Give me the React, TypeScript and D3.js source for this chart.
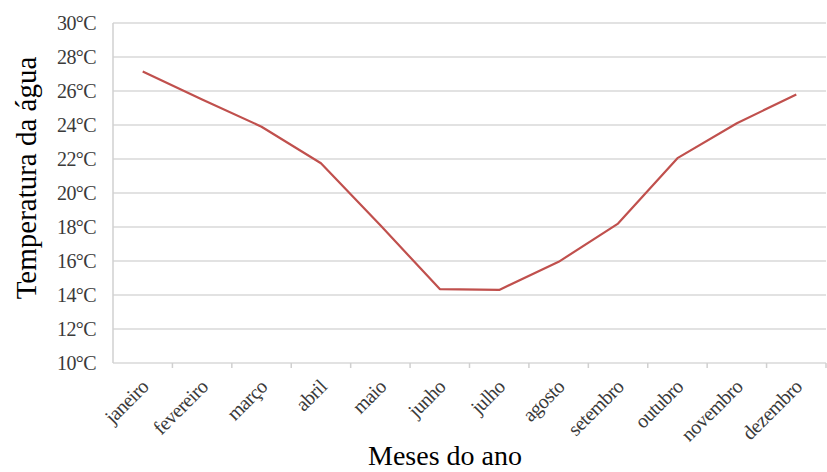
import React, { useEffect, useRef } from 'react';
import * as d3 from 'd3';

const months = ['janeiro', 'fevereiro', 'março', 'abril', 'maio', 'junho', 'julho', 'agosto', 'setembro', 'outubro', 'novembro', 'dezembro'];
const temps = [27.15, 25.5, 23.9, 21.75, 18.1, 14.35, 14.3, 15.95, 18.2, 22.05, 24.1, 25.8];
const yTicks = [10, 12, 14, 16, 18, 20, 22, 24, 26, 28, 30];

export default function App() {
  const ref = useRef<SVGSVGElement>(null);

  useEffect(() => {
    if (!ref.current) return;
    const width = 827;
    const height = 472;
    const m = { top: 23, right: 1, bottom: 109, left: 113 };
    const font = '"Liberation Serif", "Times New Roman", serif';

    const svg = d3.select(ref.current);
    svg.selectAll('*').remove();

    const x = d3.scaleBand<string>().domain(months).range([m.left, width - m.right]);
    const y = d3.scaleLinear().domain([10, 30]).range([height - m.bottom, m.top]);

    // Gridlines
    svg.append('g')
      .selectAll('line')
      .data(yTicks)
      .enter()
      .append('line')
      .attr('x1', m.left)
      .attr('x2', width - m.right)
      .attr('y1', d => y(d))
      .attr('y2', d => y(d))
      .attr('stroke', '#d9d9d9')
      .attr('stroke-width', 1.5);

    // Left axis line
    svg.append('line')
      .attr('x1', m.left).attr('x2', m.left)
      .attr('y1', m.top).attr('y2', y(10))
      .attr('stroke', '#d0d0d0').attr('stroke-width', 1.5);

    // Y tick labels
    svg.append('g')
      .selectAll('text')
      .data(yTicks)
      .enter()
      .append('text')
      .attr('x', 96)
      .attr('y', d => y(d))
      .attr('dy', '0.35em')
      .attr('text-anchor', 'end')
      .attr('font-family', font)
      .attr('font-size', 20)
      .attr('letter-spacing', -0.6)
      .attr('fill', '#3a3a3a')
      .text(d => `${d}°C`);

    // X tick marks at band boundaries
    const bounds = months.map(d => x(d) as number).concat([width - m.right]);
    svg.append('g')
      .selectAll('line')
      .data(bounds.slice(1))
      .enter()
      .append('line')
      .attr('x1', d => d).attr('x2', d => d)
      .attr('y1', y(10)).attr('y2', y(10) + 5)
      .attr('stroke', '#d0d0d0').attr('stroke-width', 1.5);

    // X tick labels
    svg.append('g')
      .selectAll('text')
      .data(months)
      .enter()
      .append('text')
      .attr('transform', d => `translate(${(x(d) as number) + x.bandwidth() / 2 + 7},${y(10) + 25}) rotate(-45)`)
      .attr('text-anchor', 'end')
      .attr('font-family', font)
      .attr('font-size', 20)
      .attr('letter-spacing', -0.5)
      .attr('fill', '#3a3a3a')
      .text(d => d);

    // Line
    const line = d3.line<number>()
      .x((_, i) => (x(months[i]) as number) + x.bandwidth() / 2)
      .y(d => y(d));

    svg.append('path')
      .datum(temps)
      .attr('d', line)
      .attr('fill', 'none')
      .attr('stroke', '#c0504d')
      .attr('stroke-width', 2.2)
      .attr('stroke-linejoin', 'round');

    // Axis titles
    svg.append('text')
      .attr('transform', `translate(36,178) rotate(-90)`)
      .attr('text-anchor', 'middle')
      .attr('font-family', font)
      .attr('font-size', 29)
      .attr('fill', '#000')
      .text('Temperatura da água');

    svg.append('text')
      .attr('x', 445)
      .attr('y', 465)
      .attr('text-anchor', 'middle')
      .attr('font-family', font)
      .attr('font-size', 28)
      .attr('fill', '#000')
      .text('Meses do ano');
  }, []);

  return (
    <svg
      ref={ref}
      width={827}
      height={472}
      style={{ position: 'absolute', left: 0, top: 0, background: '#fff' }}
    />
  );
}
